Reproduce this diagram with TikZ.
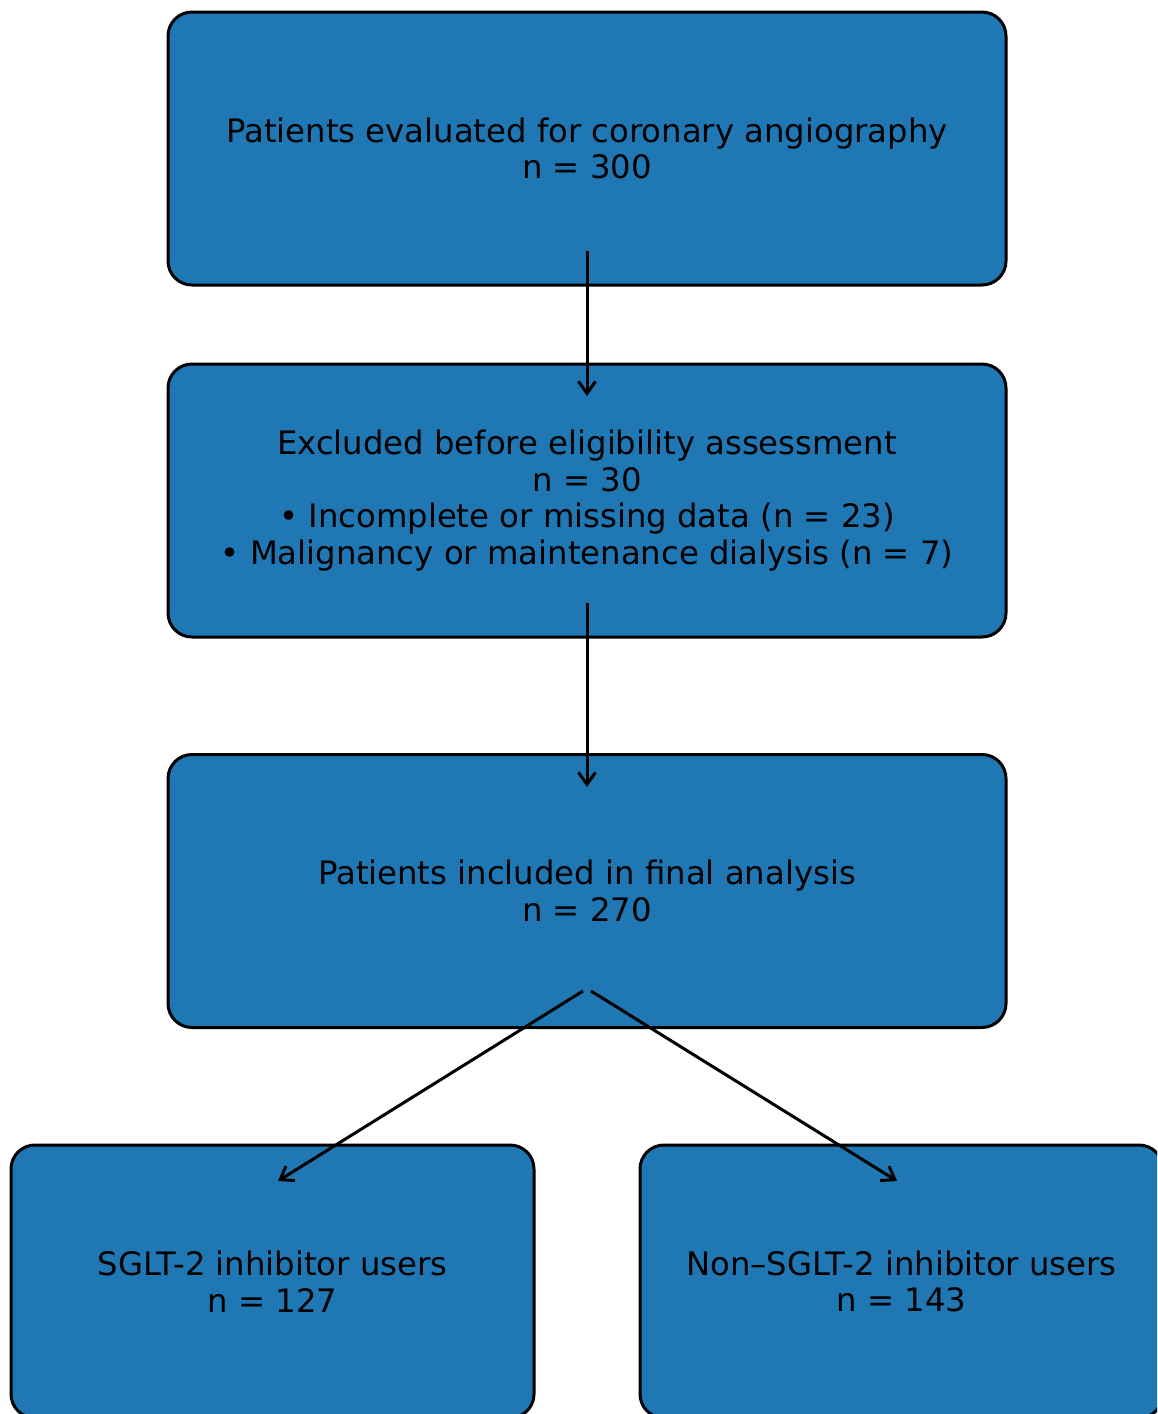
\documentclass[tikz,border=0pt]{standalone}
\usepackage{fontspec}
\setmainfont{DejaVu Sans}
\usetikzlibrary{arrows.meta}
\definecolor{tabblue}{HTML}{1F77B4}
\tikzset{
  flowbox/.style={draw=black, line width=3pt, fill=tabblue, rounded corners=24pt,
    inner sep=0pt, align=center, text=black,
    font=\fontsize{32.3}{36.6}\selectfont},
  flowarrow/.style={draw=black, line width=3pt,
    -{Straight Barb[length=12pt,width=17pt,line width=3pt]}}
}
\begin{document}
\begin{tikzpicture}[x=1pt,y=-1pt]
\useasboundingbox (0,0) rectangle (1157,1414);
\clip (0,0) rectangle (1157,1414);
\node[flowbox, minimum width=838pt, minimum height=273pt] (b1) at (587,148.5)
  {Patients evaluated for coronary angiography\\n = 300};
\node[flowbox, minimum width=838pt, minimum height=273pt] (b2) at (587,500.5)
  {Excluded before eligibility assessment\\n = 30\\• Incomplete or missing data (n = 23)\\• Malignancy or maintenance dialysis (n = 7)};
\node[flowbox, minimum width=838pt, minimum height=273pt] (b3) at (587,891)
  {Patients included in final analysis\\n = 270};
\node[flowbox, minimum width=523pt, minimum height=273pt] (b4) at (272.5,1281.5)
  {SGLT-2 inhibitor users\\n = 127};
\node[flowbox, minimum width=523pt, minimum height=273pt] (b5) at (901.5,1281.5)
  {Non–SGLT-2 inhibitor users\\n = 143};
\coordinate (s1) at (587,251);
\coordinate (e1) at (587,396);
\coordinate (s2) at (587,603);
\coordinate (e2) at (587,787);
\coordinate (s3) at (583,991);
\coordinate (e3) at (278,1181);
\coordinate (s4) at (591,991);
\coordinate (e4) at (897,1181);
\draw[flowarrow] (s1) -- (e1);
\draw[flowarrow] (s2) -- (e2);
\draw[flowarrow] (s3) -- (e3);
\draw[flowarrow] (s4) -- (e4);
\end{tikzpicture}
\end{document}
